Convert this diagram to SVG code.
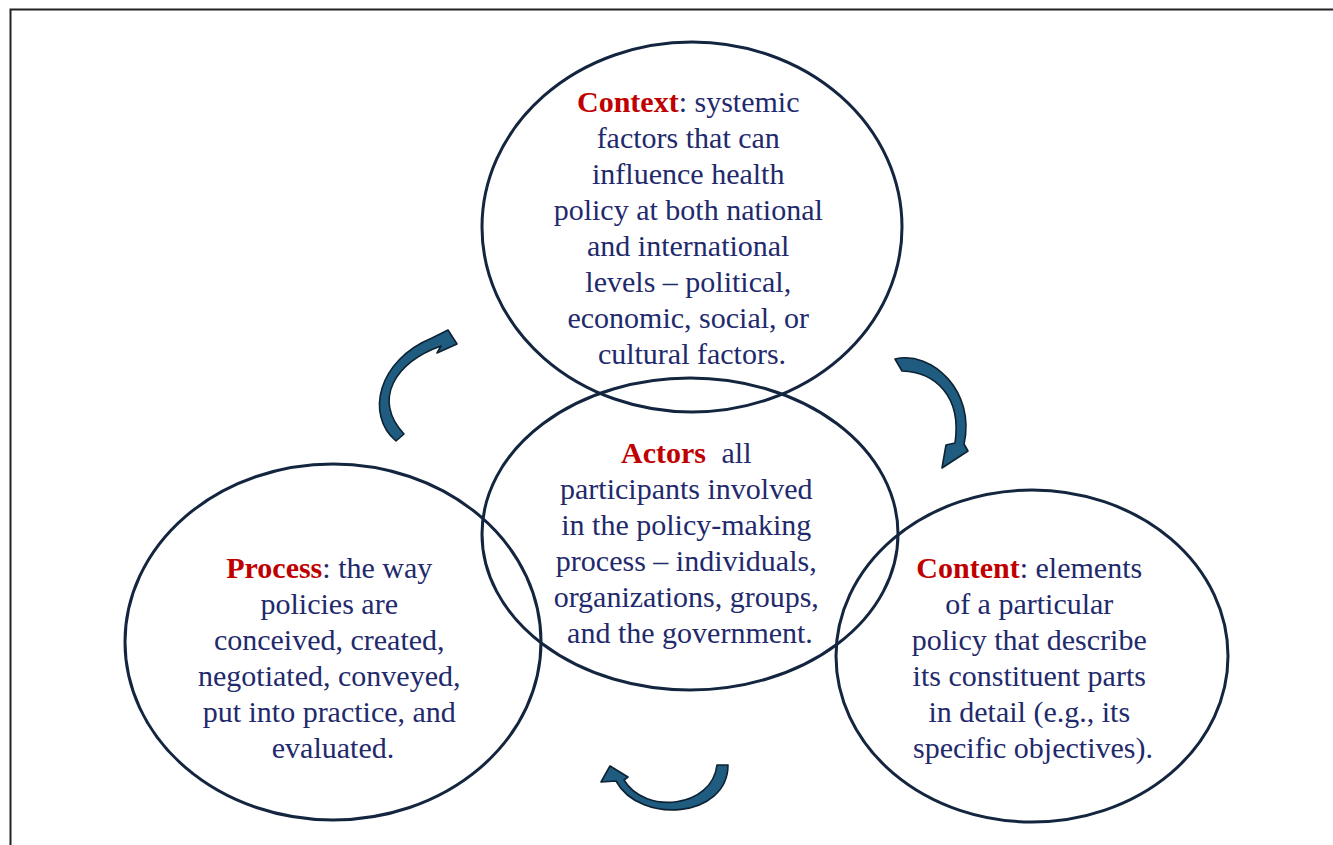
<svg xmlns="http://www.w3.org/2000/svg" width="1333" height="845" viewBox="0 0 1333 845">
  <style>
    .ring { fill: none; stroke: #13253f; stroke-width: 3; }
    .txt { font-family: "Liberation Serif", "Times New Roman", serif; font-size: 30px; fill: #1f2a6c; text-anchor: middle; }
    .key { font-weight: bold; fill: #c00000; }
    .arrow { fill: #1f5c80; stroke: #0d2233; stroke-width: 1.6; stroke-linejoin: round; }
  </style>

  <rect width="1333" height="845" fill="#ffffff"/>
  <!-- page frame -->
  <path d="M10.5 845 V9.5 H1333" fill="none" stroke="#222222" stroke-width="2"/>

  <!-- cycle arrows -->
  <g id="connectors">
    <path class="arrow" d="M396 441 C365 415 378 360 432 338 L448 330 L457 344 L437 353 L441 346 C395 362 372 400 404 434 Z"/>
    <path class="arrow" d="M895 359 C932 350 976 392 964 444 L968 451 L942 468 L946 445 L955 443 C962 396 935 372 902 371 Z"/>
    <path class="arrow" d="M728 765 C728 818 640 825 616 781 L601 782 L610 766 L628 777 L624 780 C645 815 712 808 717 765 Z"/>
  </g>

  <g id="context">
    <ellipse class="ring" cx="692" cy="227" rx="210" ry="185"/>
    <text class="txt">
      <tspan x="692" y="112"><tspan class="key">Context</tspan>: systemic</tspan>
      <tspan x="692" y="148">factors that can</tspan>
      <tspan x="692" y="184">influence health</tspan>
      <tspan x="692" y="220">policy at both national</tspan>
      <tspan x="692" y="256">and international</tspan>
      <tspan x="692" y="292">levels – political,</tspan>
      <tspan x="692" y="328">economic, social, or</tspan>
      <tspan x="692" y="364">cultural factors.</tspan>
    </text>
  </g>

  <g id="actors">
    <ellipse class="ring" cx="690" cy="534" rx="208" ry="156"/>
    <text class="txt">
      <tspan x="690" y="463"><tspan class="key">Actors</tspan><tspan dx="8">  all</tspan></tspan>
      <tspan x="690" y="499">participants involved</tspan>
      <tspan x="690" y="535">in the policy-making</tspan>
      <tspan x="690" y="571">process – individuals,</tspan>
      <tspan x="690" y="607">organizations, groups,</tspan>
      <tspan x="690" y="643">and the government.</tspan>
    </text>
  </g>

  <g id="process">
    <ellipse class="ring" cx="333" cy="642" rx="208" ry="178"/>
    <text class="txt">
      <tspan x="333" y="578"><tspan class="key">Process</tspan>: the way</tspan>
      <tspan x="333" y="614">policies are</tspan>
      <tspan x="333" y="650">conceived, created,</tspan>
      <tspan x="333" y="686">negotiated, conveyed,</tspan>
      <tspan x="333" y="722">put into practice, and</tspan>
      <tspan x="333" y="758">evaluated.</tspan>
    </text>
  </g>

  <g id="content">
    <ellipse class="ring" cx="1032" cy="656" rx="196" ry="166"/>
    <text class="txt">
      <tspan x="1033" y="578"><tspan class="key">Content</tspan>: elements</tspan>
      <tspan x="1033" y="614">of a particular</tspan>
      <tspan x="1033" y="650">policy that describe</tspan>
      <tspan x="1033" y="686">its constituent parts</tspan>
      <tspan x="1033" y="722">in detail (e.g., its</tspan>
      <tspan x="1033" y="758">specific objectives).</tspan>
    </text>
  </g>
</svg>
